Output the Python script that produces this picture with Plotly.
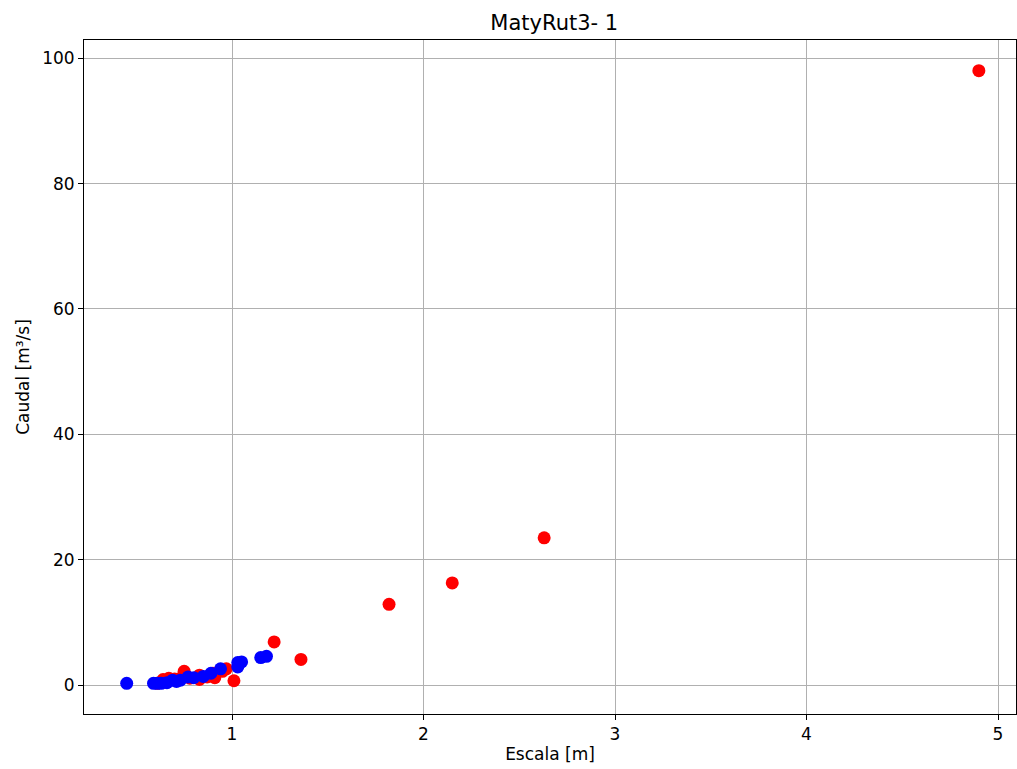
import plotly.graph_objects as go

# Data
blue_x = [0.45, 0.59, 0.61, 0.63, 0.66, 0.69, 0.71, 0.73, 0.77, 0.80, 0.85, 0.89, 0.94, 1.03, 1.03, 1.05, 1.15, 1.18]
blue_y = [0.3, 0.3, 0.3, 0.3, 0.4, 0.8, 0.6, 0.8, 1.3, 1.2, 1.4, 1.9, 2.6, 2.9, 3.6, 3.7, 4.4, 4.6]

red_x = [0.61, 0.64, 0.67, 0.70, 0.72, 0.74, 0.75, 0.78, 0.83, 0.83, 0.87, 0.90, 0.91, 0.95, 0.97, 1.01, 1.22, 1.36, 1.82, 2.15, 2.63, 4.90]
red_y = [0.3, 0.9, 1.1, 1.0, 0.9, 1.3, 2.2, 1.1, 1.6, 0.9, 1.3, 1.9, 1.2, 2.2, 2.6, 0.7, 6.9, 4.1, 12.9, 16.3, 23.5, 98.0]

x_ticks = [1, 2, 3, 4, 5]
y_ticks = [0, 20, 40, 60, 80, 100]

fig = go.Figure()
fig.add_trace(go.Scatter(x=red_x, y=red_y, mode="markers",
                         marker=dict(color="red", size=13, line=dict(width=0)),
                         showlegend=False))
fig.add_trace(go.Scatter(x=blue_x, y=blue_y, mode="markers",
                         marker=dict(color="blue", size=13, line=dict(width=0)),
                         showlegend=False))

axis_common = dict(showline=True, linecolor="black", linewidth=1, mirror=True,
                   ticks="outside", ticklen=5, tickcolor="black", tickwidth=1,
                   showgrid=True, gridcolor="#b0b0b0", gridwidth=1,
                   zeroline=False, tickfont=dict(family="DejaVu Sans", size=17, color="black"))

fig.update_layout(
    width=1017, height=769,
    paper_bgcolor="white", plot_bgcolor="white",
    margin=dict(l=84, r=1, t=40, b=55),
    title=dict(text="MatyRut3- 1", x=0.545, xanchor="center", y=0.971, yanchor="middle",
               font=dict(family="DejaVu Sans", size=21, color="black")),
    xaxis=dict(range=[0.227, 5.094], tickvals=x_ticks,
               title=dict(text="Escala [m]", font=dict(family="DejaVu Sans", size=17, color="black"), standoff=4),
               **axis_common),
    yaxis=dict(range=[-4.6, 102.9], tickvals=y_ticks,
               title=dict(text="Caudal [m³/s]", font=dict(family="DejaVu Sans", size=17, color="black"), standoff=8),
               **axis_common),
    font=dict(family="DejaVu Sans"),
)

fig.write_html("out.html")
